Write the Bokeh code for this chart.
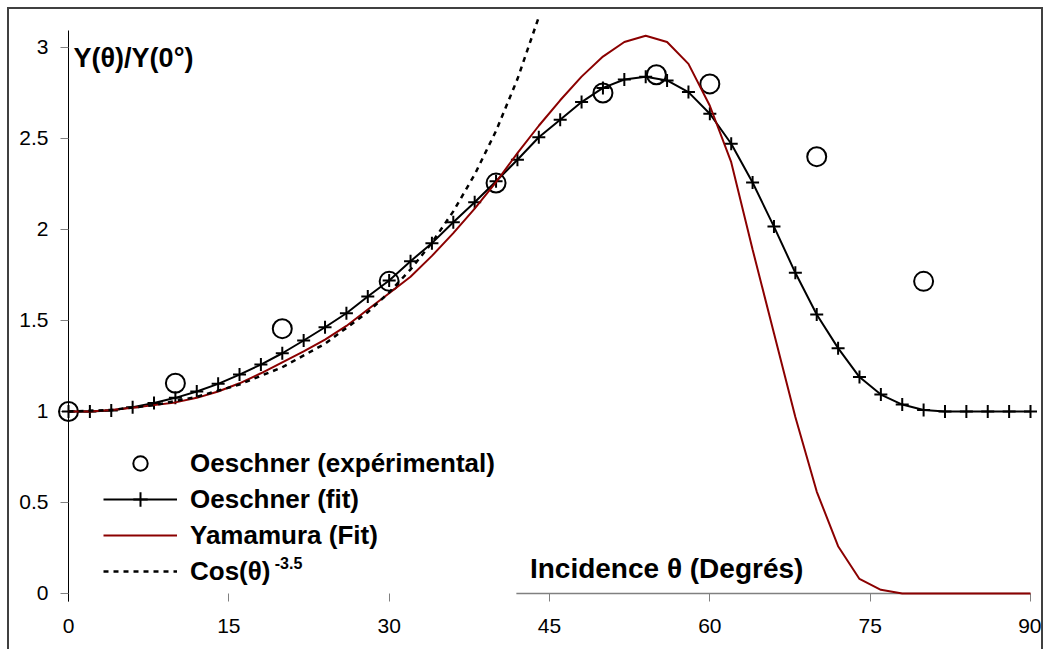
from bokeh.plotting import figure
from bokeh.models import Range1d, FixedTicker, Legend, LegendItem, Label
from bokeh.embed import file_html
from bokeh.resources import INLINE

# ---------------- data ----------------
x_ticks = [0, 15, 30, 45, 60, 75, 90]
y_ticks = [0, 0.5, 1, 1.5, 2, 2.5, 3]
y_tick_labels = ["0", "0.5", "1", "1.5", "2", "2.5", "3"]

theta_exp = [0, 10, 20, 30, 40, 50, 55, 60, 70, 80]
y_exp = [1.0, 1.155, 1.455, 1.715, 2.255, 2.75, 2.85, 2.80, 2.40, 1.715]

theta_fit = [0, 2, 4, 6, 8, 10, 12, 14, 16, 18, 20, 22, 24, 26, 28, 30, 32, 34,
             36, 38, 40, 42, 44, 46, 48, 50, 52, 54, 56, 58, 60, 62, 64, 66, 68,
             70, 72, 74, 76, 78, 80, 82, 84, 86, 88, 90]
y_fit = [1.0, 1.0, 1.005, 1.024, 1.047, 1.075, 1.11, 1.152, 1.203, 1.258, 1.32,
         1.39, 1.463, 1.54, 1.632, 1.72, 1.826, 1.925, 2.04, 2.15, 2.265, 2.383,
         2.507, 2.603, 2.70, 2.778, 2.824, 2.839, 2.819, 2.755, 2.636, 2.471,
         2.258, 2.016, 1.762, 1.533, 1.348, 1.189, 1.093, 1.038, 1.008, 1.0,
         1.0, 1.0, 1.0, 1.0]

theta_yam = theta_fit
y_yam = [1.0, 1.0, 1.008, 1.02, 1.035, 1.05, 1.075, 1.11, 1.155, 1.21, 1.27,
         1.33, 1.395, 1.47, 1.56, 1.65, 1.74, 1.855, 1.98, 2.115, 2.26, 2.42,
         2.57, 2.71, 2.84, 2.95, 3.03, 3.065, 3.03, 2.91, 2.68, 2.37, 1.89,
         1.43, 0.97, 0.56, 0.26, 0.08, 0.02, 0.0, 0.0, 0.0, 0.0, 0.0, 0.0, 0.0]

theta_cos = [0, 4, 8, 12, 16, 20, 24, 28, 30, 32, 34, 36, 38, 40, 42, 44]
y_cos = [1.0, 1.0086, 1.0348, 1.0804, 1.1483, 1.2432, 1.3723, 1.5460, 1.6544,
         1.7805, 1.9276, 2.0995, 2.3022, 2.5416, 2.8265, 3.1676]

labels = ["Oeschner (expérimental)", "Oeschner (fit)", "Yamamura (Fit)", "Cos(θ)"]
cos_exponent = "-3.5"
y_title = "Y(θ)/Y(0°)"
x_title = "Incidence θ (Degrés)"

# ---------------- figure ----------------
FONT = "Liberation Sans"
RED = "#8B0000"
GRAY = "#808080"

p = figure(width=1032, height=640,
           x_range=Range1d(0, 90), y_range=Range1d(-0.044, 3.0934),
           output_backend="svg", toolbar_location=None,
           min_border_left=59, min_border_right=11,
           min_border_top=21, min_border_bottom=48)
p.margin = (9, 0, 0, 9)
p.styles = {"outline": "2px solid #404040"}
p.outline_line_color = None
p.xgrid.visible = False
p.ygrid.visible = False
p.background_fill_color = "white"
p.border_fill_color = "white"

xa = p.xaxis[0]
xa.ticker = FixedTicker(ticks=x_ticks)
xa.axis_line_color = None
xa.major_tick_line_color = GRAY
xa.major_tick_in = 8
xa.major_tick_out = 0
xa.minor_tick_line_color = None
xa.major_label_text_font = FONT
xa.major_label_text_font_size = "21px"
xa.major_label_text_color = "black"
xa.major_label_standoff = 17

ya = p.yaxis[0]
ya.ticker = FixedTicker(ticks=y_ticks)
ya.major_label_overrides = {t: s for t, s in zip(y_ticks, y_tick_labels)}
ya.axis_line_color = "black"
ya.axis_line_width = 1
ya.major_tick_line_color = GRAY
ya.major_tick_in = 0
ya.major_tick_out = 8
ya.minor_tick_line_color = None
ya.major_label_text_font = FONT
ya.major_label_text_font_size = "21px"
ya.major_label_text_color = "black"
ya.major_label_standoff = 12

# visible part of the horizontal axis line (left part hidden behind legend)
p.segment(x0=[41.9], y0=[0], x1=[90], y1=[0], line_color=GRAY, line_width=1.5)

r_exp = p.scatter(theta_exp, y_exp, marker="circle", size=19, fill_color=None,
                  line_color="black", line_width=2, level="overlay")
r_fit_line = p.line(theta_fit, y_fit, line_color="black", line_width=2,
                    level="overlay")
r_fit_pts = p.scatter(theta_fit, y_fit, marker="cross", size=13,
                      line_color="black", line_width=2, level="overlay")
r_yam = p.line(theta_yam, y_yam, line_color=RED, line_width=2, level="overlay")
r_cos = p.line(theta_cos, y_cos, line_color="black", line_width=2.5,
               line_dash="5 5", level="overlay")

legend = Legend(items=[
    LegendItem(label=labels[0], renderers=[r_exp]),
    LegendItem(label=labels[1], renderers=[r_fit_line, r_fit_pts]),
    LegendItem(label=labels[2], renderers=[r_yam]),
    LegendItem(label=labels[3], renderers=[r_cos]),
], location=(35, 12), glyph_width=74, glyph_height=36, label_height=36,
    spacing=0, padding=0, margin=0, label_standoff=13,
    border_line_color=None, background_fill_alpha=0,
    label_text_font=FONT, label_text_font_style="bold",
    label_text_font_size="26px", label_text_color="black")
p.add_layout(legend)

p.add_layout(Label(x=19.3, y=0.165, text=cos_exponent, text_font=FONT,
                   text_font_style="bold", text_font_size="16px",
                   text_baseline="alphabetic", text_color="black"))
p.add_layout(Label(x=0.47, y=2.94, text=y_title, text_font=FONT,
                   text_font_style="bold", text_font_size="27px",
                   text_baseline="alphabetic", text_color="black"))
p.add_layout(Label(x=43.17, y=0.137, text=x_title, text_font=FONT,
                   text_font_style="bold", text_font_size="28px",
                   text_baseline="alphabetic", text_color="black"))

open("out.html", "w").write(file_html(p, INLINE))
